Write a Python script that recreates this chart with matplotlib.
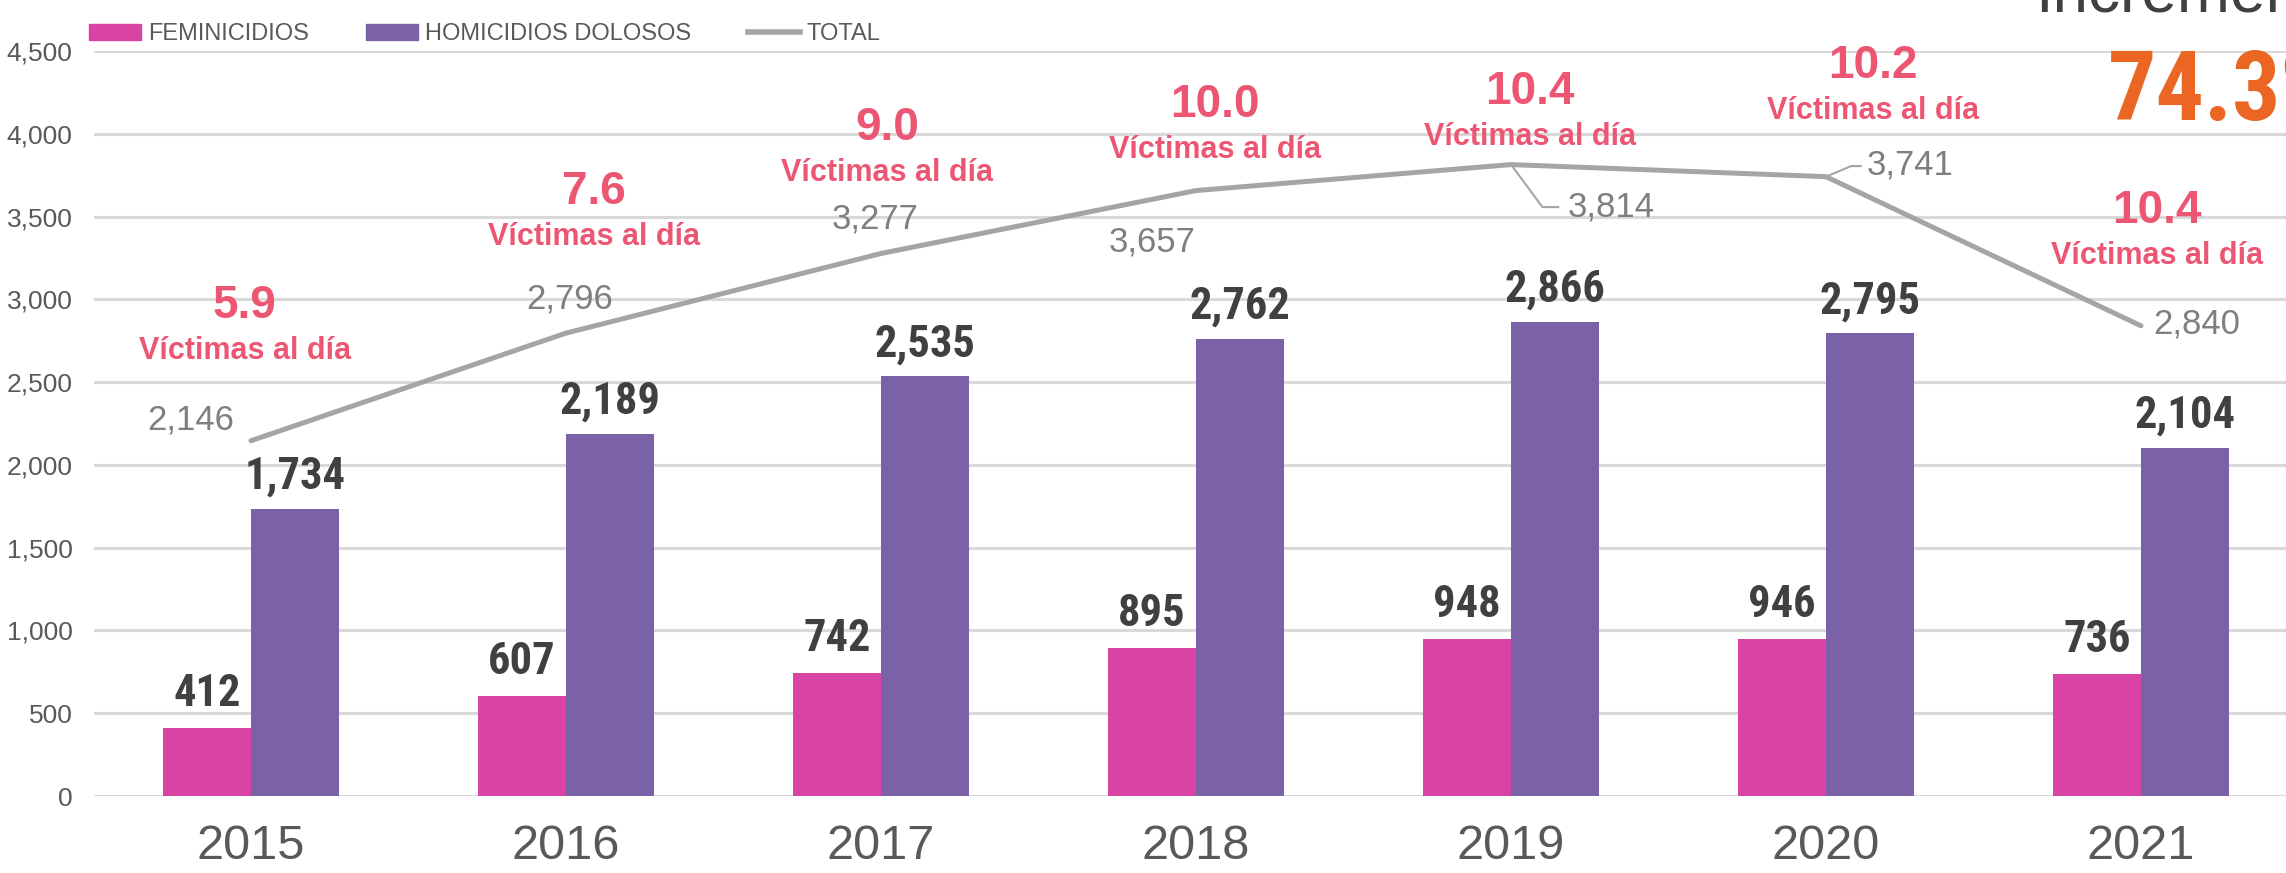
import numpy as np
import matplotlib
matplotlib.use("Agg")
import matplotlib.pyplot as plt
from matplotlib.patches import Patch
from matplotlib.lines import Line2D

# datos
years = ["2015", "2016", "2017", "2018", "2019", "2020", "2021"]
feminicidios = [412, 607, 742, 895, 948, 946, 736]
homicidios = [1734, 2189, 2535, 2762, 2866, 2795, 2104]
total = [2146, 2796, 3277, 3657, 3814, 3741, 2840]
victimas_dia = ["5.9", "7.6", "9.0", "10.0", "10.4", "10.2", "10.4"]
incremento = "74.3%"

c_fem = "#D943A3"
c_hom = "#7B61A5"
c_tot = "#A5A5A5"
c_rosa = "#EC5673"
c_naranja = "#EB6523"
c_gris = "#595959"

fuente = ["Liberation Sans", "DejaVu Sans"]
angosta = ["Liberation Sans Narrow", "Roboto Condensed", "Open Sans Condensed",
           "Noto Sans", "Liberation Sans"]
plt.rcParams["font.family"] = fuente

W, H = 2286, 873
fig = plt.figure(figsize=(W / 100, H / 100), dpi=100)
ax = fig.add_axes([93.5 / W, 77 / H, 7 * 315 / W, 745 / H])

x = np.arange(len(years))
bw = 0.28
ax.bar(x - bw / 2, feminicidios, bw, color=c_fem, zorder=2)
ax.bar(x + bw / 2, homicidios, bw, color=c_hom, zorder=2)
ax.plot(x, total, color=c_tot, lw=3.6, zorder=3, solid_capstyle="round")

ax.set_xlim(-0.5, 6.5)
ax.set_ylim(0, 4500)
ax.set_yticks(np.arange(0, 4501, 500))
ax.set_yticklabels([f"{v:,}" for v in range(0, 4501, 500)], fontsize=19, color=c_gris)
ax.set_xticks(x)
ax.set_xticklabels(years, fontsize=35, color=c_gris)
ax.tick_params(axis="both", length=0)
ax.tick_params(axis="x", pad=20)
ax.tick_params(axis="y", pad=15)
ax.yaxis.grid(True, color="#D9D9D9", lw=2.2, zorder=0)
ax.set_axisbelow(True)
for s in ax.spines.values():
    s.set_visible(False)

# etiquetas de barras
for i in range(len(years)):
    ax.annotate(f"{feminicidios[i]:,}", (x[i] - bw / 2, feminicidios[i]), xytext=(0, 22),
                textcoords="offset pixels", ha="center", va="baseline", fontsize=32,
                fontweight="bold", fontstretch="condensed", color="#404040", family=angosta)
    ax.annotate(f"{homicidios[i]:,}", (x[i] + bw / 2, homicidios[i]), xytext=(0, 20),
                textcoords="offset pixels", ha="center", va="baseline", fontsize=32,
                fontweight="bold", fontstretch="condensed", color="#404040", family=angosta)

# etiquetas de la linea total (posiciones)
tot_lbl_x = [-0.19, 1.01, 1.98, 2.86, 4.18, 5.13, 6.04]
tot_lbl_y = [2271, 3002, 3485, 3346, 3557, 3811, 2851]
tot_ha = ["center", "center", "center", "center", "left", "left", "left"]
for i in range(len(years)):
    ax.text(tot_lbl_x[i], tot_lbl_y[i], f"{total[i]:,}", ha=tot_ha[i], va="center",
            fontsize=25, color="#7F7F7F", zorder=4)
# lineas guia
ax.plot([4, 4.10, 4.15], [total[4], 3557, 3557], color=c_tot, lw=1.5, zorder=3)
ax.plot([5, 5.08, 5.11], [total[5], 3805, 3805], color=c_tot, lw=1.5, zorder=3)

# victimas al dia
vic_x = [-0.02, 1.09, 2.02, 3.06, 4.06, 5.15, 6.05]
vic_y = [2960, 3648, 4035, 4174, 4252, 4409, 3533]
for i in range(len(years)):
    ax.text(vic_x[i], vic_y[i], victimas_dia[i], ha="center", va="center", fontsize=33,
            fontweight="bold", color=c_rosa, clip_on=False, zorder=5)
    ax.text(vic_x[i], vic_y[i] - 272, "Víctimas al día", ha="center", va="center",
            fontsize=22, fontweight="bold", color=c_rosa, clip_on=False, zorder=5)

# texto lateral cortado
fig.text(2035 / W, 1 - 12 / H, "Incremento", ha="left", va="baseline", fontsize=46,
         color="#404040")
fig.text(2108 / W, 1 - 120 / H, incremento, ha="left", va="baseline", fontsize=69,
         fontweight="bold", fontstretch="condensed", color=c_naranja, family=angosta)

handles = [Patch(color=c_fem), Patch(color=c_hom), Line2D([], [], color=c_tot, lw=4)]
fig.legend(handles, ["FEMINICIDIOS", "HOMICIDIOS DOLOSOS", "TOTAL"], loc="upper left",
           bbox_to_anchor=(68 / W, 1 - 2 / H), ncol=3, frameon=False, fontsize=17,
           handlelength=2.2, handletextpad=0.3, columnspacing=2.4, labelcolor=c_gris)

fig.savefig("out.png", dpi=100)
